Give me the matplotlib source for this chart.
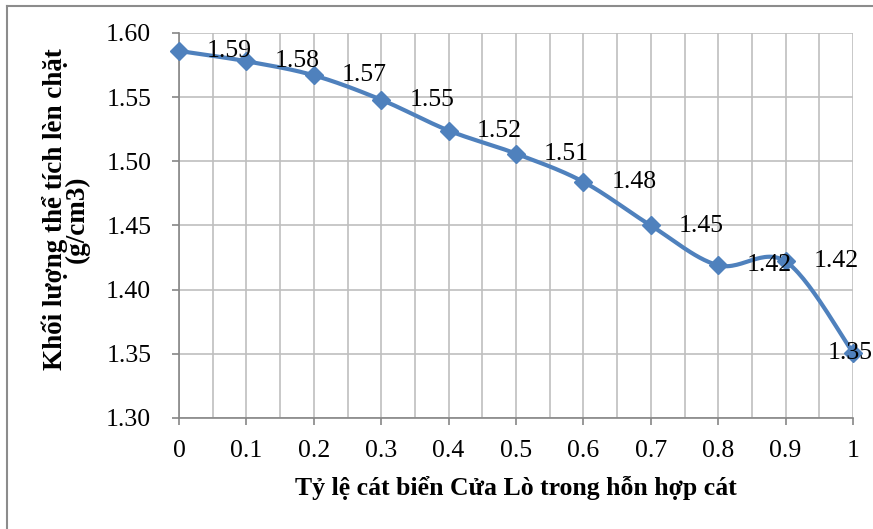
import numpy as np
import matplotlib
matplotlib.use("Agg")
import matplotlib.pyplot as plt
from matplotlib.lines import Line2D
from matplotlib.ticker import MultipleLocator, FormatStrFormatter

# ty le cat bien Cua Lo va khoi luong the tich len chat
ratio = [0.0, 0.1, 0.2, 0.3, 0.4, 0.5, 0.6, 0.7, 0.8, 0.9, 1.0]
density = [1.586, 1.578, 1.567, 1.548, 1.524, 1.506, 1.484, 1.450, 1.419, 1.422, 1.351]

xlabel = "Tỷ lệ cát biển Cửa Lò trong hỗn hợp cát"
ylabel = ["Khối lượng thể tích lèn chặt", "(g/cm3)"]

plt.rcParams['font.family'] = ['Liberation Serif', 'DejaVu Serif']

def smooth(x, y, n=30):
    """Catmull-Rom style bezier smoothing, like the office charts do."""
    x = np.asarray(x, float)
    y = np.asarray(y, float)
    px = np.concatenate([[x[0]], x, [x[-1]]])
    py = np.concatenate([[y[0]], y, [y[-1]]])
    xs, ys = [], []
    t = np.linspace(0, 1, n)
    for i in range(1, len(px) - 2):
        p0 = np.array([px[i], py[i]])
        p3 = np.array([px[i + 1], py[i + 1]])
        c1 = p0 + (np.array([px[i + 1], py[i + 1]]) - np.array([px[i - 1], py[i - 1]])) / 6
        c2 = p3 - (np.array([px[i + 2], py[i + 2]]) - np.array([px[i], py[i]])) / 6
        b = ((1 - t) ** 3)[:, None] * p0 + (3 * (1 - t) ** 2 * t)[:, None] * c1 \
            + (3 * (1 - t) * t ** 2)[:, None] * c2 + (t ** 3)[:, None] * p3
        xs.extend(b[:, 0])
        ys.extend(b[:, 1])
    return np.array(xs), np.array(ys)

fig = plt.figure(figsize=(8.73, 5.29), dpi=100)
ax = fig.add_axes([179 / 873, 1 - 418 / 529, 674 / 873, 385 / 529])

blue = '#4F81BD'
fs = 18.5
sx, sy = smooth(ratio, density)
ax.plot(sx, sy, color=blue, lw=3, clip_on=False, zorder=3)
ax.plot(ratio, density, ls='none', marker='D', ms=9.5, color=blue, clip_on=False, zorder=4)

for i, (x, y) in enumerate(zip(ratio, density)):
    dx = 28 if i < len(ratio) - 1 else -25
    ax.annotate('%.2f' % y, (x, y), xytext=(dx, 0), textcoords='offset pixels',
                ha='left', va='center', fontsize=fs, zorder=5, annotation_clip=False)

ax.set_xlim(0, 1)
ax.set_ylim(1.30, 1.60)
ax.xaxis.set_minor_locator(MultipleLocator(0.05))
ax.yaxis.set_major_locator(MultipleLocator(0.05))
ax.yaxis.set_major_formatter(FormatStrFormatter('%.2f'))
ax.set_xticks(ratio)
ax.set_xticklabels(['0', '0.1', '0.2', '0.3', '0.4', '0.5', '0.6', '0.7', '0.8', '0.9', '1'])

ax.grid(True, which='both', color='#BFBFBF', lw=1.2)
ax.set_axisbelow(True)
for s in ['top', 'right']:
    ax.spines[s].set_visible(False)
for s in ['left', 'bottom']:
    ax.spines[s].set_color('#868686')
    ax.spines[s].set_linewidth(1.2)
ax.tick_params(which='major', direction='out', length=5, width=1.2, color='#868686',
               labelsize=fs)
ax.tick_params(axis='y', pad=15)
ax.tick_params(axis='x', pad=11)
ax.tick_params(which='minor', length=0)

fig.text(516 / 873, 1 - 488 / 529, xlabel, ha='center', va='center',
         fontsize=fs, fontweight='bold')
# y label, two lines placed by their baselines
for txt, bx, cy in zip(ylabel, [62, 84], [209, 219]):
    fig.text(bx / 873, 1 - cy / 529, txt, ha='center', va='baseline', rotation=90,
             rotation_mode='anchor', fontsize=19.5, fontweight='bold')

# chart border
fig.add_artist(Line2D([7 / 873, 7 / 873], [0, 1 - 6 / 529], color='#8C8C8C', lw=1.5))
fig.add_artist(Line2D([7 / 873, 1], [1 - 6 / 529, 1 - 6 / 529], color='#8C8C8C', lw=1.5))

fig.savefig('out.png', dpi=100)
